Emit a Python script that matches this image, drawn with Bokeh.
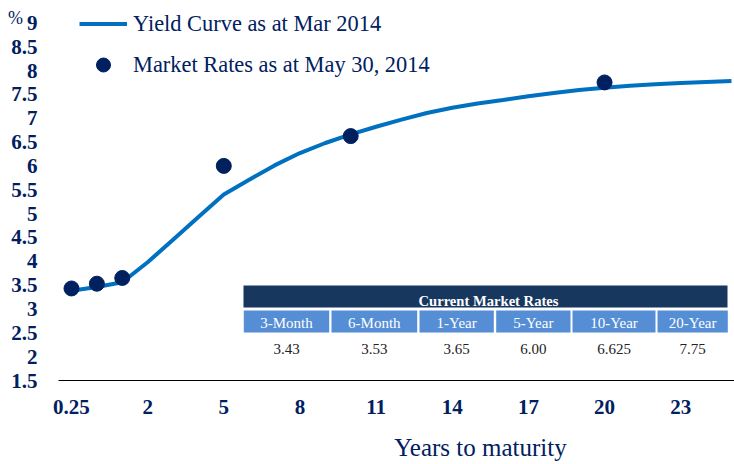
from bokeh.plotting import figure
from bokeh.models import (Range1d, FixedTicker, Legend, LegendItem, Label,
                          BoxAnnotation)
from bokeh.embed import file_html
from bokeh.resources import INLINE

# ---------------- data ----------------
categories = ["0.25", "0.5", "1", "2", "3", "4", "5", "6", "7", "8", "9",
              "10", "11", "12", "13", "14", "15", "16", "17", "18", "19",
              "20", "21", "22", "23", "24", "25"]
curve_values = [3.38, 3.46, 3.56, 3.98, 4.45, 4.93, 5.40, 5.71, 6.01, 6.27,
                6.48, 6.66, 6.82, 6.97, 7.11, 7.22, 7.31, 7.38, 7.46, 7.53,
                7.59, 7.64, 7.68, 7.71, 7.74, 7.76, 7.78]
market_maturities = ["0.25", "0.5", "1", "5", "10", "20"]
market_rates = [3.43, 3.53, 3.65, 6.00, 6.625, 7.75]
table_headers = ["3-Month", "6-Month", "1-Year", "5-Year", "10-Year", "20-Year"]
table_values = ["3.43", "3.53", "3.65", "6.00", "6.625", "7.75"]
x_tick_labels = ["0.25", "2", "5", "8", "11", "14", "17", "20", "23"]
y_ticks = [1.5, 2, 2.5, 3, 3.5, 4, 4.5, 5, 5.5, 6, 6.5, 7, 7.5, 8, 8.5, 9]
y_tick_labels = ["1.5", "2", "2.5", "3", "3.5", "4", "4.5", "5", "5.5", "6",
                 "6.5", "7", "7.5", "8", "8.5", "9"]

# ---------------- style ----------------
NAVY = "#002060"
LINE_BLUE = "#0070C0"
HDR_DARK = "#17375E"
HDR_LIGHT = "#558ED5"
SERIF = "Liberation Serif"

W, H = 734, 464
X0, X1 = -2.797, 26.12
Y0, Y1 = -0.261, 9.468

p = figure(width=W, height=H, x_range=Range1d(X0, X1), y_range=Range1d(Y0, Y1),
           output_backend="svg", toolbar_location=None,
           min_border_left=0, min_border_right=0, min_border_top=0,
           min_border_bottom=0)
p.outline_line_color = None
p.grid.visible = False
p.background_fill_color = "white"

ppx = W / (X1 - X0)
ppy = H / (Y1 - Y0)


def px2x(cx):
    return X0 + cx / ppx


def px2y(cy):
    return Y1 - cy / ppy


xs = list(range(len(categories)))
line_r = p.line(xs, curve_values, line_color=LINE_BLUE, line_width=4)
mx = [categories.index(m) for m in market_maturities]
dot_r = p.scatter(mx, market_rates, size=15, fill_color=NAVY, line_color=NAVY)

# axes (drawn at fixed locations so that the frame spans the whole canvas)
AXIS_LEFT = px2x(58)
xa = p.xaxis[0]
tick_idx = [categories.index(t) for t in x_tick_labels]
xa.ticker = FixedTicker(ticks=tick_idx)
xa.major_label_overrides = {i: t for i, t in zip(tick_idx, x_tick_labels)}
xa.fixed_location = y_ticks[0]
xa.bounds = (AXIS_LEFT, X1)
xa.major_tick_line_color = None
xa.minor_tick_line_color = None
xa.axis_line_color = "black"
xa.axis_line_width = 1
xa.major_label_standoff = 13

ya = p.yaxis[0]
ya.ticker = FixedTicker(ticks=y_ticks)
ya.major_label_overrides = {v: t for v, t in zip(y_ticks, y_tick_labels)}
ya.fixed_location = AXIS_LEFT
ya.major_tick_line_color = None
ya.minor_tick_line_color = None
ya.axis_line_color = None
ya.major_label_standoff = 15

for ax in (xa, ya):
    ax.major_label_text_font = SERIF
    ax.major_label_text_font_size = "21px"
    ax.major_label_text_font_style = "bold"
    ax.major_label_text_color = NAVY

# legend
legend = Legend(items=[LegendItem(label="Yield Curve as at Mar 2014", renderers=[line_r]),
                       LegendItem(label="Market Rates as at May 30, 2014", renderers=[dot_r])],
                location=(79, 382), glyph_width=48, glyph_height=35,
                label_standoff=6, label_text_font=SERIF,
                label_text_font_size="22.4px", label_text_color=NAVY,
                padding=0, spacing=6, margin=0, border_line_color=None,
                background_fill_alpha=0)
p.add_layout(legend)

# labels
p.add_layout(Label(x=px2x(15), y=px2y(17), text="%", text_font=SERIF,
                   text_font_size="18px", text_color=NAVY, text_align="center",
                   text_baseline="middle"))
p.add_layout(Label(x=px2x(480), y=px2y(447), text="Years to maturity",
                   text_font=SERIF, text_font_size="25px", text_color=NAVY,
                   text_align="center", text_baseline="middle"))

# table of current market rates
p.add_layout(BoxAnnotation(left=px2x(243), right=px2x(727), top=px2y(285),
                           bottom=px2y(307), fill_color=HDR_DARK, fill_alpha=1,
                           line_color=None))
p.add_layout(Label(x=px2x(488), y=px2y(300), text="Current Market Rates",
                   text_font=SERIF, text_font_size="14.6px", text_font_style="bold",
                   text_color="white", text_align="center", text_baseline="middle"))
cells = [(243.3, 328.7), (331, 416.7), (419, 493.3), (495.7, 570),
         (572, 655), (657, 727.3)]
for (l, r), hdr, val in zip(cells, table_headers, table_values):
    p.add_layout(BoxAnnotation(left=px2x(l), right=px2x(r), top=px2y(310),
                               bottom=px2y(332), fill_color=HDR_LIGHT,
                               fill_alpha=1, line_color=None))
    c = (l + r) / 2
    p.add_layout(Label(x=px2x(c), y=px2y(322.5), text=hdr, text_font=SERIF,
                       text_font_size="15px", text_color="white",
                       text_align="center", text_baseline="middle"))
    p.add_layout(Label(x=px2x(c), y=px2y(348), text=val, text_font=SERIF,
                       text_font_size="15px", text_color="#222222",
                       text_align="center", text_baseline="middle"))

open("out.html", "w").write(file_html(p, INLINE))
